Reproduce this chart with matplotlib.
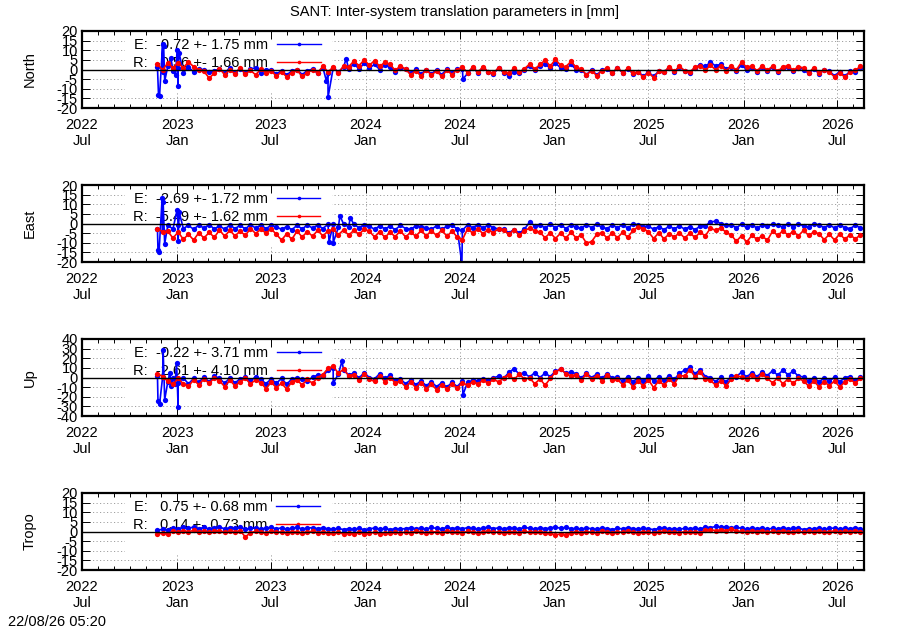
import matplotlib
matplotlib.use("Agg")
import matplotlib.pyplot as plt
import matplotlib.dates as mdates
from matplotlib.patches import Rectangle
import numpy as np
import pandas as pd

plt.rcParams['font.family'] = ['Liberation Sans', 'DejaVu Sans']
plt.rcParams['font.size'] = 10.5

# sampling dates of the daily solutions (every 10 days)
dates = pd.date_range('2022-11-24', periods=137, freq='10D')

# ---- North [mm]
north_e = [1.2, -1.2, 1.6, -0.6,
           1.0, -1.6, 1.2, -1.2, 0.4,
           -0.2, -1.2, -0.6,
           0.2, -1.8, 0.8, -1.6, 0.4, -2.0, 0.2, 1.0, -1.6, 0.0,
           -0.2, -2.4, -0.6, -2.8, -0.8, 0.0, -2.6, -0.6, 0.2,
           -2.0, 1.0, -1.6, 0.8, -1.2, 1.2,
           0.4, 2.8, 0.4, 3.2, 0.8, 2.6, 0.0, 2.2,
           1.2, -1.2, 0.8,
           0.2, -2.0, 0.2, -2.4, 0.0, -2.2, -0.2, -2.6, 0.2, -2.0, 0.4,
           0.4, -2.0, 0.8, -1.6, 1.0, -1.4, -2.2, 0.6, -1.6,
           -3.2, -1.4, -2.0,
           -0.2, 2.0, -0.4, 1.8,
           2.8, 0.6, 3.4, 0.8, 0.2, 2.6, 0.0,
           -0.4, -2.6, -0.2, -2.8, -0.4,
           0.2, -2.0, 0.8, -1.8, 0.4, -2.2,
           -1.2, -3.4, -1.4, -3.6, -0.8,
           -1.4, 1.0, -1.2, 1.4, -0.8, -1.6, 1.0,
           2.4, 1.6, 3.8, 1.8, 2.8, 0.4, 1.4, -0.6,
           2.2, 0.0,
           1.0, -1.2, 1.2, -1.0, 1.2, -1.4, 0.8, 1.4, -1.0, 1.0,
           0.0, -2.0, 0.4, -2.2, -0.2,
           -1.0, -3.2, -1.2, -3.4, -1.0,
           -1.2, 1.0]
north_r = [2.8, -0.2, 3.4, 0.8,
           3.6, 0.8, 4.0, 1.4, 0.0,
           -1.0, -4.4, -2.0,
           0.4, -2.6, -0.2, -2.2, 0.8, -2.4, -0.4, -2.8, 0.2, -1.6,
           -0.6, -3.4, -1.2, -3.8, -1.6, -0.4, -3.6, -1.8, -0.2,
           -1.6, 1.6, -1.2, 1.2, -1.8, 1.8,
           1.4, 4.4, 2.0, 5.0, 2.2, 4.6, 1.6, 3.8,
           2.6, -0.4, 1.8,
           0.2, -2.8, -0.6, -3.4, -0.2, -2.8, -0.8, -3.6, -0.4, -2.6, 0.0,
           1.2, -1.6, 1.2, -1.4, 1.4, -1.2, -2.0, 1.0, -1.2,
           -2.0, 0.8, -1.4,
           0.4, 2.8, 0.2, 2.6,
           4.8, 1.8, 5.2, 2.2, 1.4, 4.2, 1.2,
           0.2, -2.8, -0.6, -3.2, -0.6,
           0.8, -1.8, 1.0, -1.6, 0.6, -2.0,
           -1.2, -4.0, -1.6, -4.2, -1.0,
           -1.4, 1.4, -1.0, 1.6, -0.6, -1.4, 1.2,
           2.0, -0.4, 2.2, -0.2, 2.0, -0.6, 1.8, -0.2,
           3.8, 1.2,
           1.8, -0.6, 1.8, -0.4, 1.7, -1.0, 1.4, 2.0, -0.5, 1.5,
           0.8, -1.6, 0.9, -1.8, -0.2,
           -1.4, -3.8, -1.6, -4.0, -1.2,
           -0.4, 1.6]
north_e_spike_dates = ['2022-11-26', '2022-11-28', '2022-12-04', '2022-12-06', '2022-12-08',
                       '2022-12-20', '2022-12-29', '2023-01-01', '2023-01-03', '2023-01-05',
                       '2023-10-17', '2023-10-20', '2023-11-24', '2024-07-07']
north_e_spike_vals = [-13.0, -14.0, 13.5, 12.0, -6.0, 6.0, -3.0, 10.0, -8.5, 8.5,
                      -6.0, -14.5, 5.5, -5.0]

# ---- East [mm]
east_e = [-2.6, -4.0,
          -1.0, -2.8, -0.6, -2.6, -1.0, -3.0, -0.8, -2.4, -0.6, -2.8,
          -1.2, -3.0, -0.8, -2.6, -1.0, -2.8,
          -0.6, -2.4, -0.8, -2.6, -1.0,
          -1.8, -3.0, -1.6, -3.2,
          -1.0, -2.8, -0.8, -2.4,
          -0.8, -2.6, -0.4,
          -0.4, -2.0, -0.2, -1.8, -0.4, -2.2, -0.6,
          -1.4, -3.0, -1.2, -2.8, -1.4, -3.2, -1.0, -2.6, -3.0, -1.2,
          -1.6, -2.2, -3.0, -1.2, -3.0, -1.4, -1.0, -2.8, -3.4,
          -0.8, -2.2, -0.6, -2.4, -0.8, -2.2, -2.8,
          -3.0, -4.8, -3.2, -5.0, -3.0,
          0.8, -1.2,
          -0.6, -2.4, -0.4, -2.2, -0.6, -2.6, -0.8, -2.0, -2.4, -0.6,
          -2.2, -0.4, -2.0, -2.6, -0.8, -2.2, -0.6, -2.4, -0.4, -0.6,
          -1.6,
          -1.4, -3.0, -1.6, -3.2, -1.4, -2.8, -1.2, -3.0, -1.6, -3.2, -1.4, -1.2,
          0.8, 1.2, 0.0, -0.8,
          -0.6, -2.2, -0.4, -2.0, -0.6, -2.4, -0.8, -1.4,
          -0.4, -1.0, -1.8, -0.2, -1.6, 0.0, -1.4, -1.8, -0.2,
          -0.8, -2.2, -0.6, -2.4, -0.8, -2.2, -2.6, -1.0,
          -2.2]
east_r = [-2.6, -4.4,
          -4.0, -7.6, -4.4, -8.2, -5.6, -8.6, -4.8, -7.6, -4.6, -7.2,
          -3.4, -6.6, -3.6, -6.4, -4.0, -6.2,
          -2.6, -5.2, -3.0, -5.0, -2.8,
          -5.6, -8.6, -5.4, -8.2,
          -4.0, -7.0, -4.2, -6.6,
          -3.6, -6.4, -4.0,
          -3.0, -5.8, -3.4, -6.0, -3.6, -5.6, -3.0,
          -4.0, -7.0, -4.2, -7.2, -4.6, -6.8, -3.8, -7.0, -4.6, -6.6,
          -3.6, -6.4, -3.8, -6.2, -3.4, -6.6, -4.0, -7.0, -8.4,
          -2.8, -5.0, -3.0, -5.2, -3.2, -4.8, -2.6,
          -3.4, -5.6, -3.2, -6.0, -3.8,
          -2.4, -3.8,
          -4.6, -7.4, -4.8, -7.8, -5.0, -7.6, -4.6, -7.4, -6.0, -10.2,
          -9.4, -5.6, -4.8, -7.6, -4.8, -7.4, -4.6, -7.2, -3.6, -1.8,
          -2.6,
          -4.4, -7.8, -4.8, -8.0, -5.4, -7.0, -4.8, -7.6, -5.0, -7.2, -4.6, -6.4,
          -2.4, -3.6, -2.2, -4.6,
          -6.0, -9.2, -6.4, -9.6, -6.2, -8.2, -6.4, -8.8,
          -4.0, -6.2, -3.8, -6.0, -4.2, -6.4, -3.6, -6.2, -4.4,
          -5.4, -8.4, -5.6, -8.6, -5.4, -8.2, -5.8, -8.0,
          -6.0]
east_e_spike_dates = ['2022-11-25', '2022-11-27', '2022-12-03', '2022-12-05', '2022-12-08',
                      '2023-01-01', '2023-01-03', '2023-01-05', '2023-10-22', '2023-10-30',
                      '2023-11-12', '2023-12-02', '2024-07-05']
east_e_spike_vals = [-14.0, -15.0, 13.0, 11.0, -10.5, 7.0, -9.0, 6.0, -9.5, -10.0,
                     4.0, 3.0, -21.0]

# ---- Up [mm]
up_e = [2.0,
        0.5, -4.5, 0.0, -5.5, -0.5, -6.5, -1.0, -5.0, 0.5, -4.5, 1.5,
        -1.0, -6.0, -0.5, -5.5, -1.5,
        0.5, -4.0, 1.0,
        -2.0, -6.5, -1.5, -6.0, -1.0, -7.0, -1.5,
        -0.5, -2.0, -4.0, 0.5, 2.5,
        1.5, 7.5, 9.5, 3.5, 8.0, 2.5,
        4.5, -0.5, 5.0, 0.0, -1.5, 4.0, -1.0, 2.5, -3.0,
        -1.5, -6.5, -2.5, -7.5, -3.5, -8.5, -4.5, -9.5, -5.5, -10.0, -5.0, -9.5,
        -3.5, -5.0, -3.0, -3.5, -1.5, -2.5, -0.5, 1.5, -1.0,
        5.5, 9.0, 3.5, 4.5,
        0.5, 5.0, 0.0, 4.5, 1.0,
        6.5, 8.5, 4.5, 5.5,
        4.0, -0.5, 4.5, 0.0, 3.5, -1.0, 4.0, -0.5,
        0.5, -4.0, 1.0, -4.5, 0.0, -4.0, 1.5, -3.5, 1.0, -3.0, 2.0, -2.0,
        4.5, 7.5, 10.5, 4.0, 8.0, 1.0,
        0.0, -4.5, 0.5, -5.0, 1.5,
        1.0, 5.5, 0.5, 5.0, 1.0, 5.5,
        2.0, 7.0, 2.5, 7.5, 3.0, 6.5, 1.5,
        0.5, -4.0, 0.0, -4.5, -0.5, -4.0, 0.5, -4.5, 0.0,
        1.0, -3.0, 0.5]
up_r = [4.0,
        1.0, -4.0, -7.0, -1.0, -6.5, -9.0, -2.5, -7.5, -1.5, -6.0, -0.5,
        -3.5, -9.5, -3.0, -8.5, -4.5,
        -1.0, -6.5, -2.5,
        -5.5, -11.5, -5.0, -10.5, -6.0, -12.0, -4.5,
        -3.0, -7.5, -2.0, -6.0, 0.0,
        3.0, 9.5, 11.5, 4.5, 8.5, 2.0,
        3.0, -2.5, 3.5, -2.0, -4.0, 2.0, -4.5, 0.0, -5.5,
        -4.0, -9.5, -5.0, -10.5, -5.5, -11.5, -7.0, -12.5, -7.5, -12.0, -6.5, -11.0,
        -5.5, -8.0, -4.5, -6.5, -3.0, -6.0, -2.0, -4.5, -0.5,
        3.0, -2.0, 3.5, -1.5,
        -0.5, -6.5, -1.5, -8.0, -1.0,
        5.5, 9.0, 4.0, 1.5,
        3.0, -2.5, 3.5, -2.0, 2.0, -3.5, 2.5, -3.0,
        -2.0, -7.5, -3.0, -9.5, -4.0, -8.5, -2.5, -10.5, -3.5, -8.0, -2.0, -6.5,
        2.0, 1.5, 8.0, 1.0, 5.5, -1.5,
        -3.0, -8.0, -3.5, -8.5, -2.0,
        2.0, 0.5, -2.0, 3.0, -1.5, 3.5,
        -1.0, -5.5, -0.5, -6.5, -1.5, -6.0, -1.0,
        -3.5, -9.0, -4.0, -9.5, -4.5, -8.5, -3.5, -10.0, -4.5,
        -1.5, -6.0, -0.5]
up_e_spike_dates = ['2022-11-25', '2022-11-28', '2022-12-05', '2022-12-08', '2022-12-18',
                    '2022-12-21', '2022-12-28', '2022-12-31', '2023-01-03', '2023-10-30',
                    '2023-11-16', '2024-07-07']
up_e_spike_vals = [-24.5, -28.0, 28.5, -23.0, 5.0, -9.0, -7.0, 15.5, -31.0, -6.0,
                   17.0, -18.0]

# ---- Tropo [mm]
tropo_e = [0.6, 1.2, 0.8,
           2.0, 1.4, 2.2, 1.6, 2.4, 1.5, 2.1, 1.3, 1.9, 2.3, 1.4, 2.0, 1.6, 2.2, 1.2,
           1.6, 2.0, 1.3, 1.8, 2.2, 1.4, 1.9, 1.2, 1.7, 2.1, 1.3, 1.8, 2.0, 1.5, 1.9, 1.4,
           1.2, 1.6, 1.0, 1.5, 1.1, 1.7, 0.9, 1.4, 1.8, 1.2, 1.6, 1.0, 1.5, 1.3,
           1.5, 2.0, 1.4, 1.8, 1.2, 2.1, 1.6, 1.3, 2.2, 1.5, 1.9, 1.4, 2.0, 1.6,
           1.2, 1.8, 2.3, 1.5, 1.9, 1.3, 2.0, 1.6, 1.4, 2.1, 1.7, 1.3, 1.9, 1.5,
           1.8, 2.4, 1.6, 2.2, 1.5,
           1.6, 1.2, 1.9, 1.4, 1.1, 1.8, 1.5, 1.0, 1.7, 1.3, 2.0, 1.5, 1.2,
           1.8, 1.4, 1.0, 1.6, 1.9, 1.3, 1.5, 1.1, 1.7, 1.4, 1.8, 1.2,
           2.4, 2.0, 2.6, 2.2, 2.5, 1.9, 2.3,
           1.6, 1.2, 1.8, 1.4, 1.9, 1.1, 1.7, 1.3, 2.0, 1.4, 1.6, 1.8,
           1.0, 1.5, 1.3, 1.9, 1.2, 1.6, 1.8, 1.3, 1.7, 1.4, 1.9, 1.5]
tropo_r = [-1.4, -0.8, -1.2,
           0.2, -0.4, 0.4, -0.2, 0.6, -0.3, 0.3, -0.5, 0.1, 0.5, -0.4, 0.2, -0.2, 0.4, -2.8,
           -0.6, 0.1, -0.4, -0.8, 0.2, -0.5, -0.1, -0.7, 0.0, -0.4, -0.9, -0.2, 0.1, -0.6, -0.3, -0.8,
           -1.0, -0.5, -1.3, -0.7, -1.1, -0.4, -1.4, -0.8, -0.5, -1.2, -0.6, -1.0, -0.4, -0.9,
           -0.2, -0.6, 0.1, -0.4, -0.8, 0.0, -0.3, -0.7, 0.2, -0.5, -0.1, -0.6, 0.1, -0.3,
           -0.8, -0.2, 0.2, -0.5, -0.1, -0.6, 0.0, -0.4, -0.7, 0.1, -0.3, -0.5, -0.1, -0.6,
           -1.0, -1.8, -1.2, -1.6, -0.8,
           -0.2, -0.6, 0.0, -0.4, -0.7, 0.1, -0.3, -0.8, -0.1, -0.5, 0.2, -0.4, -0.6,
           0.0, -0.3, -0.9, -0.2, 0.1, -0.5, -0.2, -0.7, 0.0, -0.4, -0.1, -0.6,
           0.6, 1.0, 0.4, 0.9, 0.5, 1.1, 0.3,
           0.1, -0.3, 0.3, -0.1, 0.4, -0.4, 0.2, -0.2, 0.5, -0.3, 0.0, 0.3,
           -0.5, 0.1, -0.2, 0.4, -0.4, 0.0, 0.3, -0.3, 0.1, -0.1, 0.2, -0.2]
tropo_e_spike_dates = []
tropo_e_spike_vals = []

# legend statistics: (mean, rms) for E and R
north_stats = [(-0.72, 1.75), (-0.56, 1.66)]
east_stats = [(-2.69, 1.72), (-5.49, 1.62)]
up_stats = [(-0.22, 3.71), (-2.61, 4.10)]
tropo_stats = [(0.75, 0.68), (0.14, 0.73)]

panels = [
    ('North', north_e, north_r, north_e_spike_dates, north_e_spike_vals, north_stats, 20, 5),
    ('East', east_e, east_r, east_e_spike_dates, east_e_spike_vals, east_stats, 20, 5),
    ('Up', up_e, up_r, up_e_spike_dates, up_e_spike_vals, up_stats, 40, 10),
    ('Tropo', tropo_e, tropo_r, tropo_e_spike_dates, tropo_e_spike_vals, tropo_stats, 20, 5),
]

W, H = 900, 630
fig = plt.figure(figsize=(W / 100, H / 100), dpi=100)

x_left, x_right = 82, 864
tops = [31, 185, 339, 493]
ph = 77

xmin = pd.Timestamp('2022-07-01')
xmax = pd.Timestamp('2026-08-22')

for (name, e_vals, r_vals, sp_d, sp_v, stats, ylim, ystep), top in zip(panels, tops):
    assert len(e_vals) == len(dates) and len(r_vals) == len(dates), name
    ax = fig.add_axes([x_left / W, 1 - (top + ph) / H, (x_right - x_left) / W, ph / H])

    # E series with its outliers merged in time order
    e_ser = pd.concat([pd.Series(e_vals, index=dates),
                       pd.Series(sp_v, index=pd.to_datetime(sp_d), dtype=float)]).sort_index()
    r_ser = pd.Series(r_vals, index=dates)

    lab_e = f"E: {stats[0][0]:6.2f} +- {stats[0][1]:4.2f} mm"
    lab_r = f"R: {stats[1][0]:6.2f} +- {stats[1][1]:4.2f} mm"
    le, = ax.plot(e_ser.index, e_ser.values, color='#0000ff', lw=1.2, marker='o',
                  ms=3.8, mew=0, label=lab_e, zorder=2)
    lr, = ax.plot(r_ser.index, r_ser.values, color='#ff0000', lw=1.2, marker='o',
                  ms=3.8, mew=0, label=lab_r, zorder=2.1)
    ax.axhline(0, color='black', lw=1.0, zorder=3)

    ax.set_xlim(xmin, xmax)
    ax.set_ylim(-ylim, ylim)
    yt = np.arange(-ylim, ylim + ystep, ystep)
    ax.set_yticks(yt)
    ax.set_yticklabels([str(v) for v in yt])

    ax.xaxis.set_major_locator(mdates.MonthLocator(bymonth=[1, 7]))
    ax.xaxis.set_minor_locator(mdates.MonthLocator())
    ax.xaxis.set_major_formatter(mdates.DateFormatter('%Y\n%b'))

    ax.tick_params(which='both', direction='in', top=True, right=True, width=0.7)
    ax.tick_params(which='major', length=5.8)
    ax.tick_params(which='minor', length=2.6)
    ax.tick_params(axis='x', which='major', pad=7)
    ax.tick_params(axis='y', pad=3)
    for lbl in ax.get_xticklabels():
        lbl.set_linespacing(1.25)

    # dotted grid behind everything
    for v in yt:
        if v != 0:
            ax.axhline(v, color='#a0a0a0', lw=0.7, ls=(0, (1.2, 2.4)), zorder=0.3)
    for t in ax.get_xticks():
        ax.axvline(t, color='#a0a0a0', lw=0.7, ls=(0, (1.2, 2.4)), zorder=0.3)

    # key area blanks the grid
    ax.add_patch(Rectangle(((125 - x_left) / 782, 1 - 62 / ph), (332 - 125) / 782, 62 / ph,
                           transform=ax.transAxes, facecolor='white', edgecolor='none',
                           zorder=1))
    leg = ax.legend(loc='upper left', bbox_to_anchor=((133 - x_left) / 782, 1 - 7 / ph),
                    frameon=False, markerfirst=False, numpoints=1, borderpad=0,
                    borderaxespad=0, labelspacing=0.3, handlelength=3.0,
                    handletextpad=0.6)
    leg.set_zorder(1.5)
    for h in leg.legend_handles:
        h.set_markersize(2.6)
        h.set_linewidth(1.0)

    for s in ax.spines.values():
        s.set_linewidth(1.6)

    fig.text(30 / W, 1 - (top + ph / 2) / H, name, rotation=90, ha='center', va='center')

fig.text(454 / W, 1 - 12 / H, 'SANT: Inter-system translation parameters in [mm]',
         ha='center', va='center')
fig.text(8 / W, 1 - 622 / H, '22/08/26 05:20', ha='left', va='center')

fig.savefig('out.png', dpi=100)
